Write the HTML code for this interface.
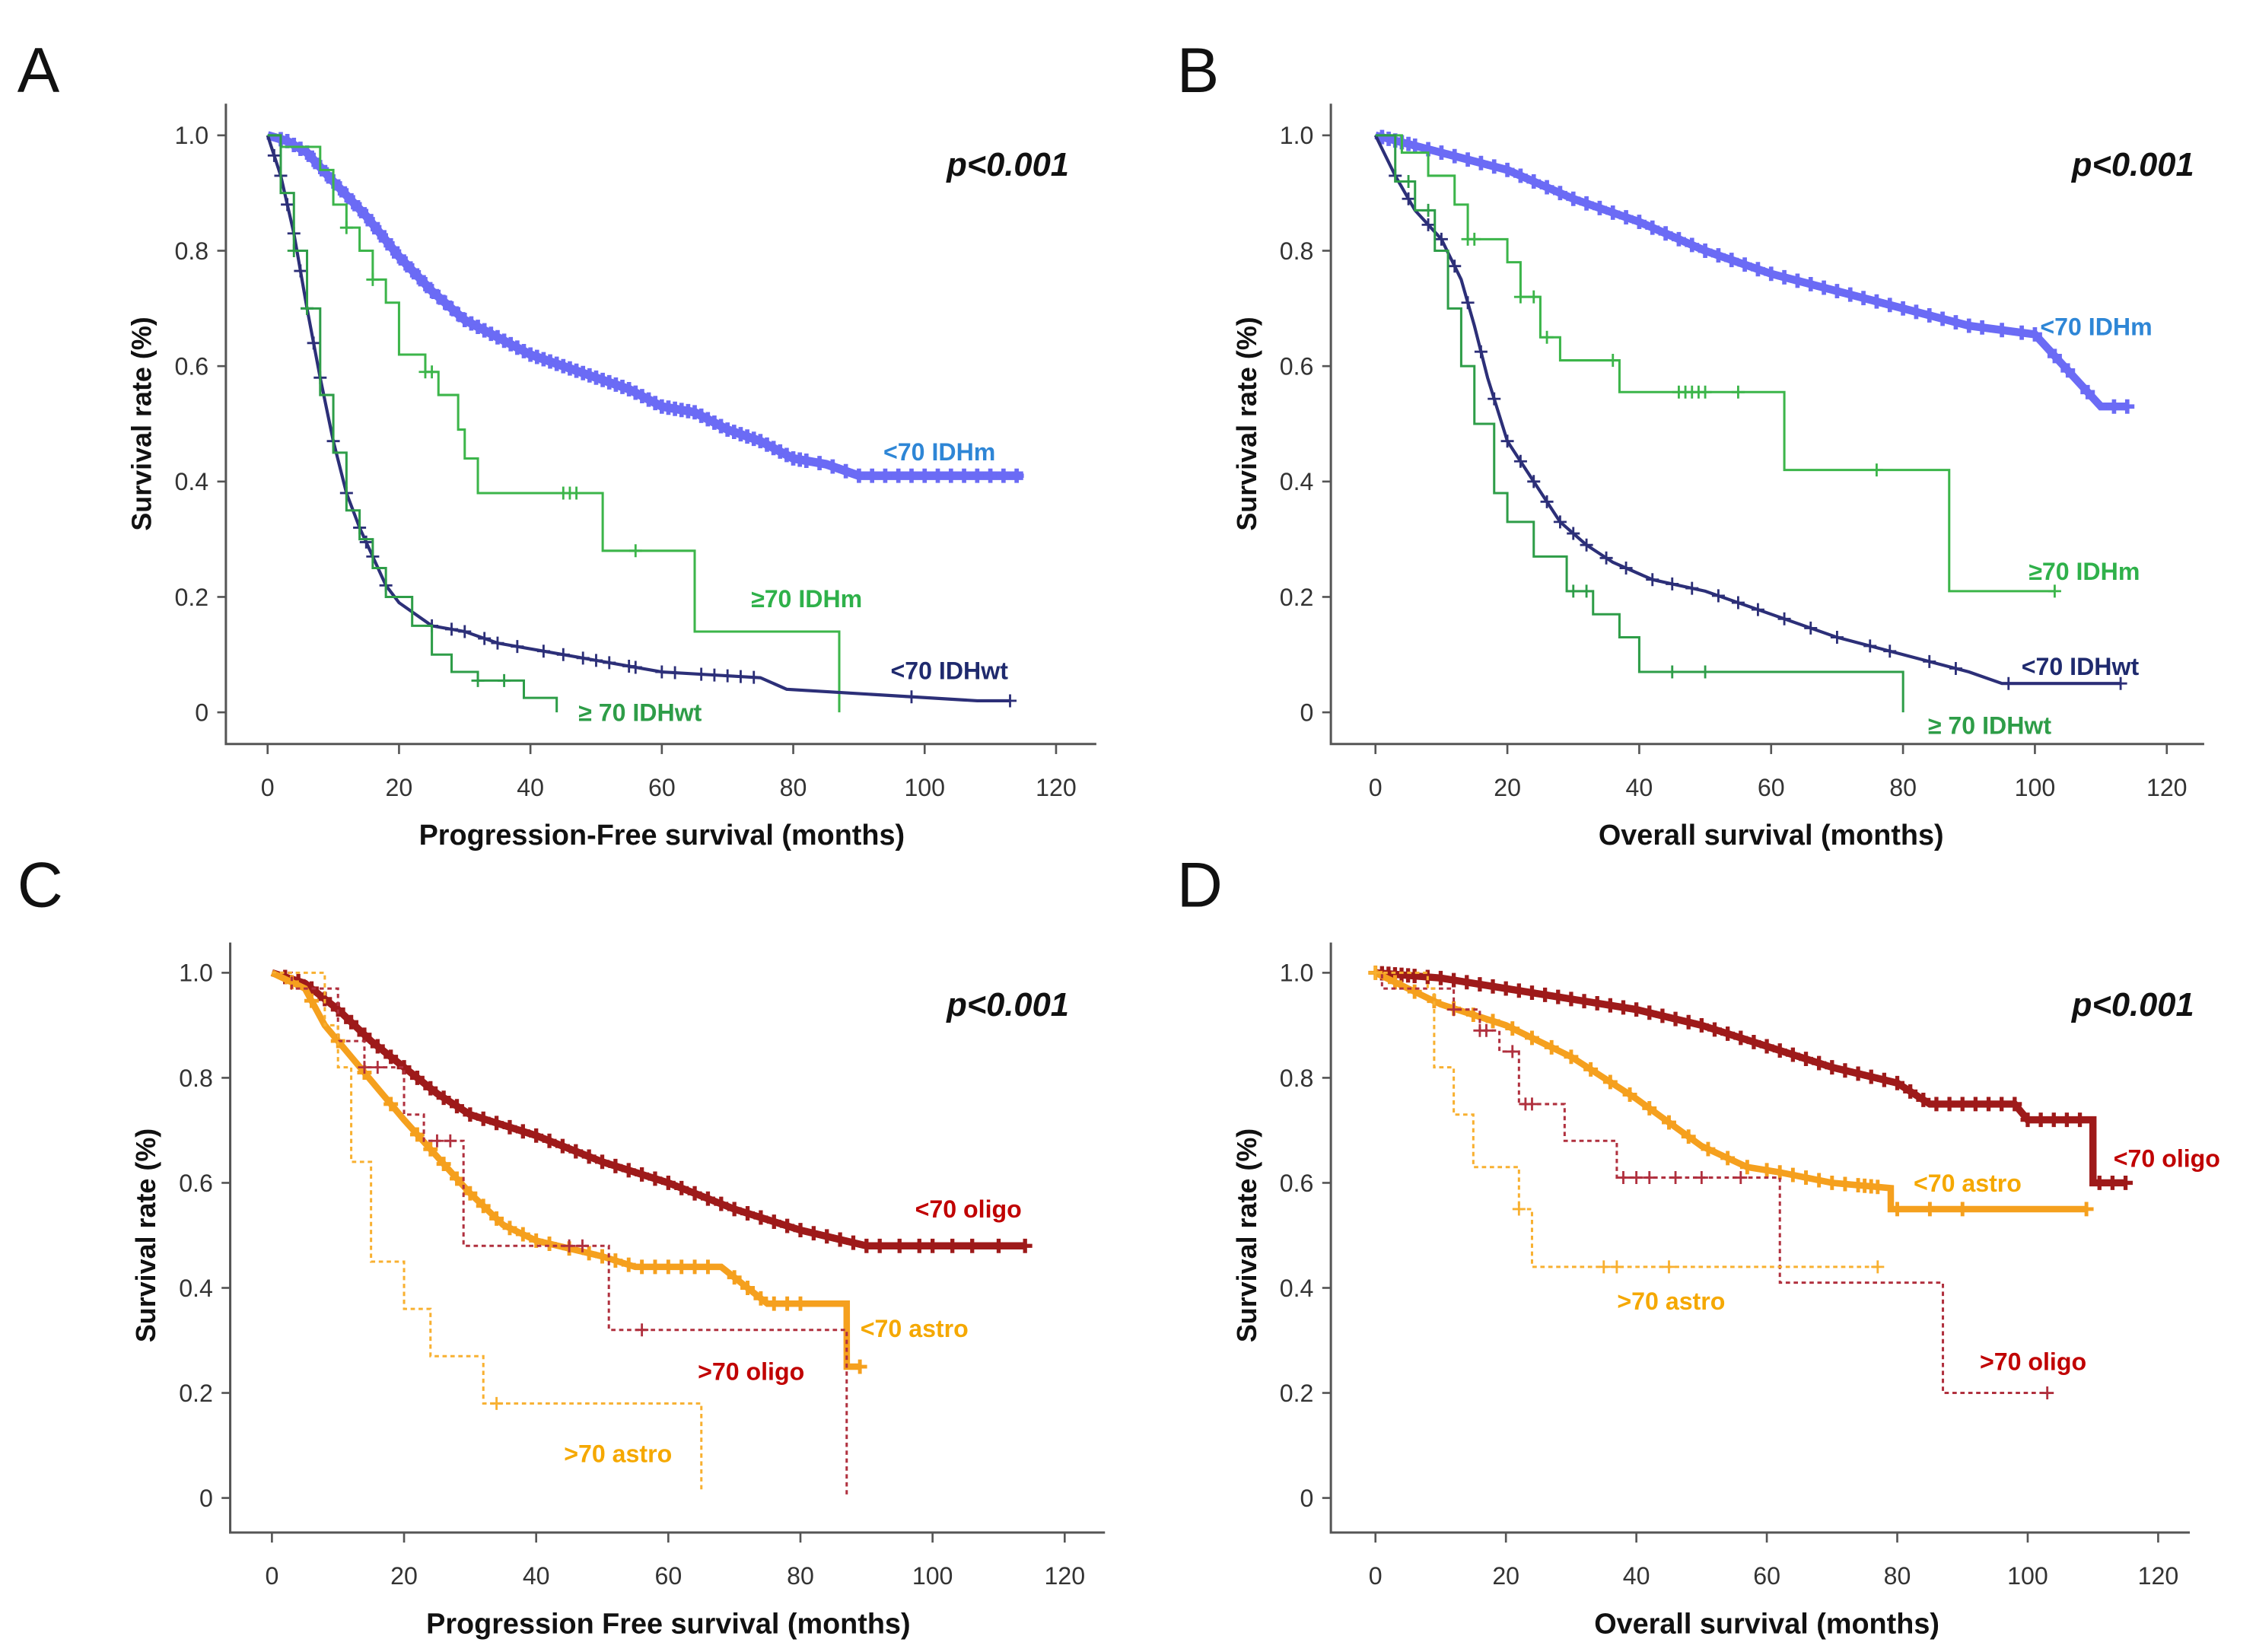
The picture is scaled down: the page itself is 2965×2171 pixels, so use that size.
<!DOCTYPE html>
<html><head><meta charset="utf-8">
<style>
html,body{margin:0;padding:0;background:#fff;}
svg{display:block;}
text{font-family:"Liberation Sans",sans-serif;}
</style></head>
<body>
<svg id="fig" width="2965" height="2171" viewBox="0 0 1568 1148" xmlns="http://www.w3.org/2000/svg">
<rect width="1568" height="1148" fill="#fff"/>
</svg>
<script>
// ---------- Data ----------
const yTicks = [0, 0.2, 0.4, 0.6, 0.8, 1.0];
const yTickLabels = ["0", "0.2", "0.4", "0.6", "0.8", "1.0"];
const xTicks = [0, 20, 40, 60, 80, 100, 120];

// Panel A
const aIDHmT = [0,3,6,10,15,20,25,30,35,40,45,50,55,60,65,70,75,80,85,90,115];
const aIDHmS = [1,0.99,0.97,0.92,0.86,0.79,0.73,0.68,0.65,0.62,0.60,0.58,0.56,0.53,0.52,0.49,0.47,0.44,0.43,0.41,0.41];
const aIDHmC = [2,3,4,5,6,7,8,9,10,11,12,13,14,15,16,17,18,19,20,21,22,23,24,25,26,27,28,29,30,31,32,33,34,35,36,37,38,39,40,41,42,43,44,45,46,47,48,49,50,51,52,53,54,55,56,57,58,59,60,61,62,63,64,65,66,67,68,69,70,71,72,73,74,75,76,77,78,79,80,81,82,84,86,88,90,92,94,96,98,100,102,104,106,108,110,112,114];
const aOldmT = [0,2,8,10,12,14,16,18,20,24,26,29,30,32,51,65,87];
const aOldmS = [1,0.98,0.94,0.88,0.84,0.80,0.75,0.71,0.62,0.59,0.55,0.49,0.44,0.38,0.28,0.14,0.0];
const aOldmC = [12,16,24,25,45,46,47,56];
const aWtT = [0,2,4,6,8,10,12,14,16,18,20,25,30,35,40,50,55,60,75,79,108,113];
const aWtS = [1,0.93,0.83,0.70,0.58,0.47,0.38,0.32,0.27,0.22,0.19,0.15,0.14,0.12,0.11,0.09,0.08,0.07,0.06,0.04,0.02,0.02];
const aWtC = [1,2,3,4,5,6,7,8,10,12,14,15,16,18,25,28,30,33,35,38,42,45,48,50,52,55,56,60,62,66,68,70,72,74,98,113];
const aOldwtT = [0,2,4,6,8,10,12,14,16,18,22,25,28,32,39,44];
const aOldwtS = [1,0.90,0.80,0.70,0.55,0.45,0.35,0.30,0.25,0.20,0.15,0.10,0.07,0.055,0.025,0.0];
const aOldwtC = [4,6,32,36];

// Panel B
const bIDHmT = [0,10,20,30,40,50,60,70,80,90,100,110,114];
const bIDHmS = [1,0.97,0.94,0.89,0.85,0.80,0.76,0.73,0.70,0.67,0.655,0.53,0.53];
const bIDHmC = [1,2,3,4,5,6,8,10,12,14,16,18,20,22,24,26,28,30,32,34,36,38,40,42,44,46,48,50,52,54,56,58,60,62,64,66,68,70,72,74,76,78,80,82,84,86,88,90,92,95,98,100,103,105,108,112,114];
const bOldmT = [0,4,8,12,14,20,22,25,28,37,62,87,103];
const bOldmS = [1,0.97,0.93,0.88,0.82,0.78,0.72,0.65,0.61,0.555,0.42,0.21,0.21];
const bOldmC = [14,15,22,24,26,36,46,47,48,49,50,55,76,103];
const bWtT = [0,3,6,10,13,15,17,20,24,28,32,36,42,50,60,70,80,90,95,113];
const bWtS = [1,0.93,0.87,0.82,0.75,0.67,0.58,0.47,0.40,0.33,0.29,0.26,0.23,0.21,0.17,0.13,0.10,0.07,0.05,0.05];
const bWtC = [3,5,8,10,12,14,16,18,20,22,24,26,28,30,32,35,38,42,45,48,52,55,58,62,66,70,75,78,84,88,96,113];
const bOldwtT = [0,3,6,9,11,13,15,18,20,24,29,33,37,40,80,80.01];
const bOldwtS = [1,0.92,0.87,0.80,0.70,0.60,0.50,0.38,0.33,0.27,0.21,0.17,0.13,0.07,0.07,0.0];
const bOldwtC = [5,8,30,32,45,50];

// Panel C
const cOligoT = [0,5,10,15,20,25,30,40,50,60,70,80,90,114];
const cOligoS = [1,0.98,0.93,0.87,0.82,0.77,0.73,0.69,0.64,0.60,0.55,0.51,0.48,0.48];
const cOligoC = [2,4,6,8,10,12,14,16,18,20,22,24,26,28,30,32,34,36,38,40,42,44,46,48,50,52,54,56,58,60,62,64,66,68,70,72,74,76,78,80,82,84,86,88,90,92,95,98,100,103,106,110,114];
const cAstroT = [0,5,8,12,16,20,25,30,35,40,50,55,68,72,75,87,87.01,89];
const cAstroS = [1,0.97,0.90,0.84,0.78,0.72,0.65,0.58,0.52,0.49,0.46,0.44,0.44,0.40,0.37,0.37,0.25,0.25];
const cAstroC = [3,6,10,14,18,22,24,26,28,30,32,34,36,38,40,42,45,48,50,52,54,56,58,60,62,64,66,70,72,74,76,78,80,89];
const cOldOligoT = [0,3,10,14,20,23,29,51,87];
const cOldOligoS = [1,0.97,0.87,0.82,0.73,0.68,0.48,0.32,0.0];
const cOldOligoC = [14,16,25,27,45,47,56];
const cOldAstroT = [0,8,10,12,15,20,24,32,65];
const cOldAstroS = [1,0.9,0.82,0.64,0.45,0.36,0.27,0.18,0.01];
const cOldAstroC = [34];

// Panel D
const dOligoT = [0,10,20,30,40,50,60,70,80,85,98,100,110,110.01,115];
const dOligoS = [1,0.99,0.97,0.95,0.93,0.90,0.86,0.82,0.79,0.75,0.75,0.72,0.72,0.60,0.60];
const dOligoC = [1,2,3,4,5,6,8,10,12,14,16,18,20,22,24,26,28,30,32,34,36,38,40,42,44,46,48,50,52,54,56,58,60,62,64,66,68,70,72,74,76,78,80,82,84,86,88,90,92,94,96,98,100,102,104,106,108,111,113,115];
const dAstroT = [0,5,10,20,30,40,50,57,62,70,79,79.01,109];
const dAstroS = [1,0.97,0.94,0.90,0.84,0.76,0.67,0.63,0.62,0.60,0.59,0.55,0.55];
const dAstroC = [0,3,6,9,12,15,18,21,24,27,30,33,36,39,42,45,48,51,54,57,60,62,64,66,68,70,72,74,75,76,77,80,85,90,109];
const dOldOligoT = [0,1,10,12,16,19,22,29,37,62,87,103];
const dOldOligoS = [1,0.97,0.97,0.93,0.89,0.85,0.75,0.68,0.61,0.41,0.20,0.20];
const dOldOligoC = [12,16,17,21,23,24,38,40,42,46,50,56,103];
const dOldAstroT = [0,8,9,12,15,22,24,77];
const dOldAstroS = [1,0.97,0.82,0.73,0.63,0.55,0.44,0.44];
const dOldAstroC = [0,22,35,37,45,77];

// ---------- Drawing ----------
const NS = "http://www.w3.org/2000/svg";
const svg = document.getElementById("fig");
function mk(tag, attrs, parent){ const e=document.createElementNS(NS,tag); for(const k in attrs) e.setAttribute(k,attrs[k]); (parent||svg).appendChild(e); return e; }

function survAt(T,S,t){ let s=S[0]; for(let i=0;i<T.length;i++){ if(T[i]<=t) s=S[i]; else break;} return s; }
function survLin(T,S,t){ if(t<=T[0]) return S[0]; for(let i=1;i<T.length;i++){ if(t<=T[i]){ const f=(t-T[i-1])/(T[i]-T[i-1]||1); return S[i-1]+f*(S[i]-S[i-1]); } } return S[S.length-1]; }

function panel(p){
  const g = mk("g",{});
  
  
  const X = t => p.x0 + (p.x120-p.x0)*t/120;
  const Y = s => p.y0 + (p.y1-p.y0)*s;
  const L = mk("text",{x:p.lx,y:p.ly,"font-size":44,fill:"#111"},g); L.textContent=p.letter;
  
  
  const ax = mk("path",{d:`M${p.ax} ${p.atop} V${p.abot} H${p.aright}`,stroke:"#555",fill:"none","stroke-width":1.6},g);
  
  
  yTicks.forEach((v,i)=>{
    mk("line",{x1:p.ax-6,x2:p.ax,y1:Y(v),y2:Y(v),stroke:"#555","stroke-width":1.4},g);
    const t=mk("text",{x:p.ax-12,y:Y(v)+6,"text-anchor":"end","font-size":17,fill:"#333"},g);
    t.textContent=yTickLabels[i];
    
    
  });
  xTicks.forEach(v=>{
    mk("line",{x1:X(v),x2:X(v),y1:p.abot,y2:p.abot+7,stroke:"#555","stroke-width":1.4},g);
    const t=mk("text",{x:X(v),y:p.abot+36,"text-anchor":"middle","font-size":17,fill:"#333"},g);
    t.textContent=String(v);
    
    
  });
  const yt=mk("text",{x:0,y:0,transform:`translate(${p.ax-52},${(Y(0)+Y(1))/2}) rotate(-90)`,"text-anchor":"middle","font-size":19,"font-weight":"bold",fill:"#111"},g);
  yt.textContent="Survival rate (%)";
  
  
  const xt=mk("text",{x:(X(0)+X(120))/2,y:p.abot+70,"text-anchor":"middle","font-size":20,"font-weight":"bold",fill:"#111"},g);
  xt.textContent=p.xtitle;
  
  
  const pv=mk("text",{x:p.px,y:p.py,"text-anchor":"end","font-size":23,"font-weight":"bold","font-style":"italic",fill:"#111"},g);
  pv.textContent="p<0.001";
  
  
  p.series.forEach(s=>{
    let d="";
    if(s.step){
      d=`M${X(s.T[0])} ${Y(s.S[0])}`;
      for(let i=1;i<s.T.length;i++){ d+=` H${X(s.T[i])} V${Y(s.S[i])}`; }
    } else {
      d="M"+s.T.map((t,i)=>`${X(t)} ${Y(s.S[i])}`).join(" L");
    }
    const path=mk("path",{d:d,stroke:s.color,fill:"none","stroke-width":s.w||1.6,"stroke-dasharray":s.dash?"3 2.5":"none"},g);
    
    
    const cg=mk("g",{stroke:s.color,"stroke-width":s.cw||1.5},g);
    
    
    s.C.forEach(c=>{
      const yy=Y(s.step?survAt(s.T,s.S,c):survLin(s.T,s.S,c)), xx=X(c), r=s.cs||4.5;
      mk("path",{d:`M${xx-r} ${yy}H${xx+r}M${xx} ${yy-r}V${yy+r}`},cg);
    });
    const lab=mk("text",{x:s.lx,y:s.ly,"font-size":17,fill:s.lcolor||s.color,"font-weight":"bold"},g);
    lab.textContent=s.label;
    
    
  });
}

const BLUE="#6b6bf5", NAVY="#2c2f78", GRN="#3cb54a", GRN2="#2e9d48", RED="#9e1a1a", ORG="#f5a01e", RED2="#b0303e", ORG2="#f8b030";

panel({name:"panel-a",letter:"A",lx:12,ly:64,x0:186,x120:734,y0:495,y1:94,ax:157,atop:72,abot:517,aright:762,
  xtitle:"Progression-Free survival (months)",px:743,py:122,
  series:[
    {name:"a-young-idhm",T:aIDHmT,S:aIDHmS,C:aIDHmC,color:BLUE,w:6,cs:5,cw:3,label:"<70 IDHm",lx:614,ly:320,lcolor:"#2e86d6"},
    {name:"a-old-idhm",T:aOldmT,S:aOldmS,C:aOldmC,color:GRN,step:true,label:"\u226570 IDHm",lx:522,ly:422,lcolor:"#2fb14a"},
    {name:"a-young-idhwt",T:aWtT,S:aWtS,C:aWtC,color:NAVY,w:2.2,label:"<70 IDHwt",lx:619,ly:472,lcolor:"#1f2a6e"},
    {name:"a-old-idhwt",T:aOldwtT,S:aOldwtS,C:aOldwtC,color:GRN2,step:true,label:"\u2265 70 IDHwt",lx:402,ly:501,lcolor:"#2e9d48"}
  ]});
panel({name:"panel-b",letter:"B",lx:818,ly:64,x0:956,x120:1506,y0:495,y1:94,ax:925,atop:72,abot:517,aright:1532,
  xtitle:"Overall survival (months)",px:1525,py:122,
  series:[
    {name:"b-young-idhm",T:bIDHmT,S:bIDHmS,C:bIDHmC,color:BLUE,w:5.5,cs:5,cw:3,step:false,label:"<70 IDHm",lx:1418,ly:233,lcolor:"#2e86d6"},
    {name:"b-old-idhm",T:bOldmT,S:bOldmS,C:bOldmC,color:GRN,step:true,label:"\u226570 IDHm",lx:1410,ly:403,lcolor:"#2fb14a"},
    {name:"b-young-idhwt",T:bWtT,S:bWtS,C:bWtC,color:NAVY,w:2.2,label:"<70 IDHwt",lx:1405,ly:469,lcolor:"#1f2a6e"},
    {name:"b-old-idhwt",T:bOldwtT,S:bOldwtS,C:bOldwtC,color:GRN2,step:true,label:"\u2265 70 IDHwt",lx:1340,ly:510,lcolor:"#2e9d48"}
  ]});
panel({name:"panel-c",letter:"C",lx:12,ly:630,x0:189,x120:740,y0:1041,y1:676,ax:160,atop:655,abot:1065,aright:768,
  xtitle:"Progression Free survival (months)",px:743,py:706,
  series:[
    {name:"c-young-oligo",T:cOligoT,S:cOligoS,C:cOligoC,color:RED,w:5,cs:5,cw:2.8,label:"<70 oligo",lx:636,ly:846,lcolor:"#c00000"},
    {name:"c-young-astro",T:cAstroT,S:cAstroS,C:cAstroC,color:ORG,w:4.5,cs:5,cw:2.6,label:"<70 astro",lx:598,ly:929,lcolor:"#f5a800"},
    {name:"c-old-oligo",T:cOldOligoT,S:cOldOligoS,C:cOldOligoC,color:RED2,step:true,dash:true,w:1.6,label:">70 oligo",lx:485,ly:959,lcolor:"#c00000"},
    {name:"c-old-astro",T:cOldAstroT,S:cOldAstroS,C:cOldAstroC,color:ORG2,step:true,dash:true,w:1.6,label:">70 astro",lx:392,ly:1016,lcolor:"#f5a800"}
  ]});
panel({name:"panel-d",letter:"D",lx:818,ly:630,x0:956,x120:1500,y0:1041,y1:676,ax:925,atop:655,abot:1065,aright:1522,
  xtitle:"Overall survival (months)",px:1525,py:706,
  series:[
    {name:"d-young-oligo",T:dOligoT,S:dOligoS,C:dOligoC,color:RED,w:5,cs:5,cw:2.8,label:"<70 oligo",lx:1469,ly:811,lcolor:"#c00000"},
    {name:"d-young-astro",T:dAstroT,S:dAstroS,C:dAstroC,color:ORG,w:4.5,cs:5,cw:2.6,label:"<70 astro",lx:1330,ly:828,lcolor:"#f5a800"},
    {name:"d-old-oligo",T:dOldOligoT,S:dOldOligoS,C:dOldOligoC,color:RED2,step:true,dash:true,w:1.6,label:">70 oligo",lx:1376,ly:952,lcolor:"#c00000"},
    {name:"d-old-astro",T:dOldAstroT,S:dOldAstroS,C:dOldAstroC,color:ORG2,step:true,dash:true,w:1.6,label:">70 astro",lx:1124,ly:910,lcolor:"#f5a800"}
  ]});
</script>
</body></html>
